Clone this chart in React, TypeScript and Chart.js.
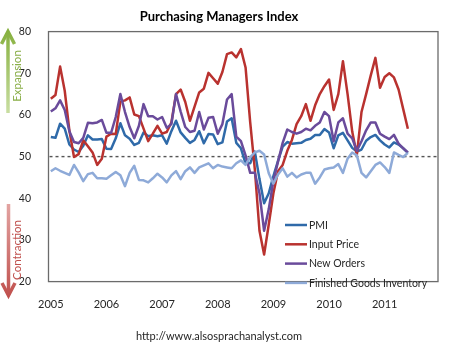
import React, { useEffect, useRef } from 'react';
import { Chart, registerables } from 'chart.js';

Chart.register(...registerables);

const TITLE = 'Purchasing Managers Index';
const SOURCE = 'http://www.alsosprachanalyst.com';
const YEAR_LABELS = ['2005', '2006', '2007', '2008', '2009', '2010', '2011'];
const MONTHS_PER_YEAR = 12;
const AXIS_MONTHS = 84; // Jan 2005 .. Dec 2011
const Y_MIN = 20;
const Y_MAX = 80;
const Y_STEP = 10;
const THRESHOLD = 50;
const SIDE_LABELS = ['Expansion', 'Contraction'];

// Monthly values, Jan 2005 .. Jun 2011
const PMI = [
  54.7, 54.5, 57.9, 56.7, 52.9, 51.7, 51.1, 52.6, 55.1, 54.1, 54.1, 54.2,
  51.9, 51.8, 54.4, 58.0, 55.1, 54.3, 52.8, 53.3, 55.8, 54.9, 55.1, 54.9,
  55.1, 53.1, 56.1, 58.6, 55.8, 54.5, 53.3, 54.0, 56.1, 53.2, 55.4, 55.3,
  53.0, 53.4, 58.4, 59.2, 53.3, 52.0, 48.4, 48.4, 51.2, 44.6, 38.8, 41.2,
  45.3, 49.0, 52.4, 53.5, 53.1, 53.2, 53.3, 54.0, 54.3, 55.2, 55.2, 56.6,
  55.8, 52.0, 55.1, 55.7, 53.9, 52.1, 51.2, 51.7, 53.8, 54.7, 55.2, 53.9,
  52.9, 52.2, 53.4, 52.9, 52.0, 50.9,
];

const INPUT_PRICE = [
  63.9, 64.8, 71.6, 65.8, 56.3, 49.9, 50.6, 53.9, 52.5, 51.0, 48.0, 49.5,
  54.8, 55.5, 55.4, 63.2, 63.5, 64.2, 60.1, 59.7, 56.7, 53.7, 55.5, 57.4,
  55.5, 55.9, 58.2, 65.0, 66.1, 63.1, 58.6, 62.0, 65.4, 66.3, 70.1, 68.8,
  67.5, 70.3, 74.6, 75.0, 73.8, 75.8, 71.4, 58.2, 46.9, 32.2, 26.5, 33.7,
  41.2, 46.5, 48.0, 51.4, 54.0, 57.8, 59.7, 62.6, 58.6, 62.3, 65.0, 66.9,
  68.5, 61.2, 65.0, 72.9, 65.0, 56.0, 50.4, 60.7, 65.0, 69.5, 73.7, 66.5,
  69.1, 70.0, 69.0, 66.1, 61.4, 56.7,
];

const NEW_ORDERS = [
  60.8, 61.6, 63.5, 61.2, 56.1, 53.5, 53.2, 54.5, 58.1, 58.0, 58.2, 58.8,
  55.7, 55.7, 59.5, 65.0, 60.7, 57.1, 54.4, 57.4, 62.6, 59.7, 59.7, 58.9,
  59.5, 56.9, 57.8, 65.0, 60.8, 57.1, 55.9, 56.2, 60.7, 56.5, 59.3, 59.5,
  55.5, 57.8, 63.7, 65.0, 54.8, 53.7, 50.3, 46.1, 46.1, 41.2, 32.2, 37.4,
  44.2, 48.8, 53.3, 56.5, 55.9, 55.5, 55.9, 56.7, 56.3, 57.4, 58.2, 60.7,
  59.7, 53.7, 58.2, 59.2, 55.5, 54.4, 51.4, 53.7, 56.3, 58.2, 58.2, 55.5,
  54.8, 54.2, 55.2, 53.1, 52.0, 51.0,
];

const FINISHED_GOODS_INVENTORY = [
  46.5, 47.2, 46.6, 46.1, 45.6, 48.0, 46.2, 44.1, 45.8, 46.1, 44.8, 44.8,
  44.7, 45.5, 46.3, 45.5, 42.9, 46.1, 47.8, 44.4, 44.3, 43.8, 44.8, 45.9,
  45.0, 43.8, 45.5, 46.5, 44.6, 46.5, 47.4, 46.1, 47.4, 47.9, 48.4, 47.2,
  48.0, 47.6, 47.4, 47.2, 48.4, 49.1, 48.0, 49.9, 51.0, 51.4, 50.5, 46.0,
  43.5, 45.7, 47.2, 45.2, 46.1, 45.0, 45.7, 46.1, 46.1, 43.5, 45.0, 46.9,
  47.2, 47.4, 48.2, 46.1, 49.5, 51.0, 50.3, 46.1, 45.0, 46.5, 48.0, 48.6,
  47.5, 46.1, 51.0, 50.4, 49.9, 50.9,
];

const SERIES_NAMES = ['PMI', 'Input Price', 'New Orders', 'Finished Goods Inventory'];
const SERIES_VALUES = [PMI, INPUT_PRICE, NEW_ORDERS, FINISHED_GOODS_INVENTORY];
const SERIES_COLORS = ['#2f6aa9', '#b9322f', '#6a4b9b', '#8eaad8'];

const FONT = 'Lato, "Open Sans", "DejaVu Sans", sans-serif';
const TEXT_COLOR = '#262626';

const decorPlugin = {
  id: 'decor',
  beforeDatasetsDraw(chart: any) {
    const { ctx, chartArea: a, scales } = chart;
    const y = scales.y.getPixelForValue(THRESHOLD);
    ctx.save();
    ctx.strokeStyle = '#555555';
    ctx.lineWidth = 1.4;
    ctx.setLineDash([3, 3]);
    ctx.beginPath();
    ctx.moveTo(a.left + 1, y);
    ctx.lineTo(a.right - 1, y);
    ctx.stroke();
    ctx.restore();
  },
  afterDatasetsDraw(chart: any) {
    const { ctx, chartArea: a } = chart;
    ctx.save();
    // plot frame
    ctx.strokeStyle = '#6b6b6b';
    ctx.lineWidth = 1.3;
    ctx.strokeRect(a.left, a.top, a.right - a.left, a.bottom - a.top);
    // legend inside the plot (lower right)
    const lx0 = 285;
    const lx1 = 307;
    const ly0 = 225;
    const step = 19.3;
    ctx.font = `10.5px ${FONT}`;
    ctx.textBaseline = 'middle';
    ctx.textAlign = 'left';
    SERIES_NAMES.forEach((name, k) => {
      const yy = ly0 + k * step;
      ctx.strokeStyle = SERIES_COLORS[k];
      ctx.lineWidth = 2.5;
      ctx.beginPath();
      ctx.moveTo(lx0, yy);
      ctx.lineTo(lx1, yy);
      ctx.stroke();
      ctx.fillStyle = TEXT_COLOR;
      ctx.fillText(name, lx1 + 2, yy + 0.5);
    });
    ctx.restore();
  },
  afterDraw(chart: any) {
    const { ctx } = chart;
    ctx.save();
    ctx.lineWidth = 3.5;
    ctx.lineJoin = 'miter';
    ctx.lineCap = 'butt';
    // Expansion arrow (up, green)
    const g = ctx.createLinearGradient(0, 30, 0, 113);
    g.addColorStop(0, '#86b03e');
    g.addColorStop(1, '#c9dea2');
    ctx.strokeStyle = g;
    ctx.beginPath();
    ctx.moveTo(8, 113);
    ctx.lineTo(8, 32);
    ctx.stroke();
    ctx.beginPath();
    ctx.moveTo(1.5, 44);
    ctx.lineTo(8, 31.5);
    ctx.lineTo(14.5, 44);
    ctx.stroke();
    // Contraction arrow (down, red)
    const r = ctx.createLinearGradient(0, 204, 0, 297);
    r.addColorStop(0, '#e3a4a2');
    r.addColorStop(1, '#c0504d');
    ctx.strokeStyle = r;
    ctx.beginPath();
    ctx.moveTo(8.5, 204);
    ctx.lineTo(8.5, 294);
    ctx.stroke();
    ctx.beginPath();
    ctx.moveTo(2, 283);
    ctx.lineTo(8.5, 295.5);
    ctx.lineTo(15, 283);
    ctx.stroke();
    // rotated labels
    ctx.font = `11.5px ${FONT}`;
    ctx.textAlign = 'center';
    ctx.textBaseline = 'middle';
    ctx.save();
    ctx.translate(17, 76);
    ctx.rotate(-Math.PI / 2);
    ctx.fillStyle = '#8aae48';
    ctx.fillText(SIDE_LABELS[0], 0, 0);
    ctx.restore();
    ctx.save();
    ctx.translate(17, 250);
    ctx.rotate(-Math.PI / 2);
    ctx.fillStyle = '#c0504d';
    ctx.fillText(SIDE_LABELS[1], 0, 0);
    ctx.restore();
    ctx.restore();
  },
};

export default function App() {
  const canvasRef = useRef<HTMLCanvasElement | null>(null);

  useEffect(() => {
    const canvas = canvasRef.current;
    if (!canvas) return;
    const n = SERIES_NAMES.length;
    const datasets = SERIES_NAMES.map((name, k) => ({
      label: name,
      data: SERIES_VALUES[k].map((v, i) => ({ x: i, y: v })),
      borderColor: SERIES_COLORS[k],
      backgroundColor: SERIES_COLORS[k],
      borderWidth: 2.5,
      pointRadius: 0,
      pointHoverRadius: 0,
      tension: 0,
      fill: false,
      borderJoinStyle: 'round' as const,
      order: n - k,
    }));

    const chart = new Chart(canvas, {
      type: 'line',
      data: { datasets },
      plugins: [decorPlugin],
      options: {
        animation: false,
        responsive: false,
        devicePixelRatio: 1,
        parsing: false,
        normalized: true,
        layout: { padding: { left: 0, right: 12, top: 0, bottom: 0 } },
        plugins: {
          legend: { display: false },
          tooltip: { enabled: false },
          title: {
            display: true,
            text: TITLE,
            color: '#000000',
            font: { family: FONT, size: 13, weight: 'bold' },
            padding: { top: 9, bottom: 7 },
          },
          subtitle: {
            display: true,
            position: 'bottom',
            text: SOURCE,
            color: TEXT_COLOR,
            font: { family: FONT, size: 11 },
            padding: { top: 11, bottom: 2 },
          },
        },
        scales: {
          x: {
            type: 'linear',
            min: -0.5,
            max: AXIS_MONTHS - 0.5,
            grid: { display: false },
            border: { display: false },
            afterBuildTicks: (axis: any) => {
              axis.ticks = YEAR_LABELS.map((_, k) => ({ value: k * MONTHS_PER_YEAR }));
            },
            ticks: {
              autoSkip: false,
              maxRotation: 0,
              padding: 8,
              color: TEXT_COLOR,
              font: { family: FONT, size: 11 },
              callback: (value: any) => YEAR_LABELS[Math.round(Number(value) / MONTHS_PER_YEAR)] ?? '',
            },
          },
          y: {
            type: 'linear',
            min: Y_MIN,
            max: Y_MAX,
            grid: { display: false },
            border: { display: false },
            afterFit: (scale: any) => {
              scale.width = 48.5;
            },
            ticks: {
              stepSize: Y_STEP,
              padding: 9.5,
              color: TEXT_COLOR,
              font: { family: FONT, size: 10.5 },
            },
          },
        },
      },
    });
    return () => chart.destroy();
  }, []);

  return (
    <div style={{ position: 'fixed', left: 0, top: 0, width: 450, height: 345, background: '#ffffff' }}>
      <canvas ref={canvasRef} width={450} height={345} style={{ display: 'block', width: 450, height: 345 }} />
    </div>
  );
}
